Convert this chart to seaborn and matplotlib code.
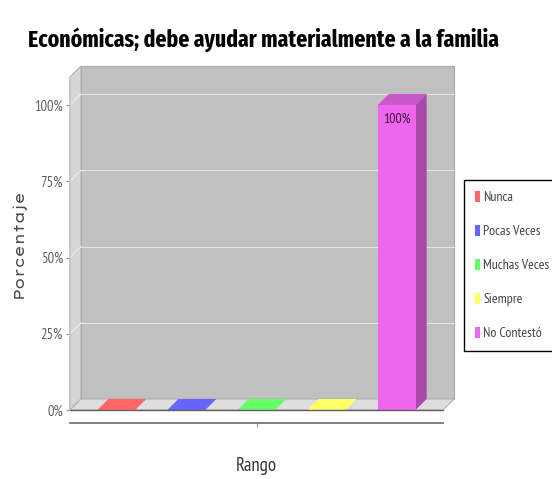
import matplotlib
matplotlib.use('Agg')
import matplotlib.pyplot as plt
import seaborn as sns
import pandas as pd
from matplotlib.patches import Polygon, Patch
from matplotlib.colors import to_rgb

categories = ['Nunca', 'Pocas Veces', 'Muchas Veces', 'Siempre', 'No Contestó']
values = [0, 0, 0, 0, 100]
colors = ['#ff6666', '#6666ff', '#66ff66', '#ffff66', '#ee66ee']
yticks = [0, 25, 50, 75, 100]
ytick_labels = ['0%', '25%', '50%', '75%', '100%']
bar_labels = ['', '', '', '', '100%']
title = 'Económicas; debe ayudar materialmente a la familia'
xlabel = 'Rango'
ylabel = 'Porcentaje'

sns.set_theme(style='white')
NARROW = ['PT Sans Narrow', 'DejaVu Sans']
plt.rcParams['font.family'] = NARROW

W, H = 552, 479
fig = plt.figure(figsize=(W / 100, H / 100), dpi=100)
fig.patch.set_facecolor('white')
L, R, B, T = 70, 443, 410, 77
ax = fig.add_axes([L / W, 1 - B / H, (R - L) / W, (B - T) / H])
ax.set_facecolor('none')
ymax = 100 * (B - T) / 305.0
x0, x1 = -0.66, 4.66

df = pd.DataFrame({'Rango': categories, 'Porcentaje': values})
sns.barplot(data=df, x='Rango', y='Porcentaje', hue='Rango', palette=colors,
            width=0.54, saturation=1, legend=False, ax=ax, zorder=3,
            edgecolor='none')
ax.set_xlim(x0, x1)
ax.set_ylim(0, ymax)

depth = 11
ddx = depth * (x1 - x0) / (R - L)
ddy = depth * ymax / (B - T)

# walls
ax.add_patch(Polygon([(x0 + ddx, ddy), (x1 + ddx, ddy), (x1 + ddx, ymax + ddy), (x0 + ddx, ymax + ddy)],
                     closed=True, facecolor='#c0c0c0', edgecolor='#a8a8a8', lw=0.8, zorder=0, clip_on=False))
ax.add_patch(Polygon([(x0, 0), (x0 + ddx, ddy), (x0 + ddx, ymax + ddy), (x0, ymax)],
                     closed=True, facecolor='#d6d6d6', edgecolor='#b0b0b0', lw=0.8, zorder=0.5, clip_on=False))
ax.add_patch(Polygon([(x0, 0), (x1, 0), (x1 + ddx, ddy), (x0 + ddx, ddy)],
                     closed=True, facecolor='#dedede', edgecolor='#b0b0b0', lw=0.8, zorder=0.5, clip_on=False))
for yv in yticks[1:]:
    ax.plot([x0 + ddx, x1 + ddx], [yv + ddy, yv + ddy], color='#e4e4e4', lw=0.8, zorder=0.6, clip_on=False)
    ax.plot([x0, x0 + ddx], [yv, yv + ddy], color='#ececec', lw=0.8, zorder=0.6, clip_on=False)
ax.plot([x0, x1], [0, 0], color='#606060', lw=1.0, zorder=4, clip_on=False)

# 3D faces for bars
for p in ax.patches[:]:
    if p.get_zorder() != 3:
        continue
    bx, bw, bh = p.get_x(), p.get_width(), p.get_height()
    c = to_rgb(p.get_facecolor())
    topc = tuple(v * 0.85 for v in c) if bh > 0 else c
    sidec = tuple(v * 0.72 for v in c)
    ax.add_patch(Polygon([(bx, bh), (bx + ddx, bh + ddy), (bx + bw + ddx, bh + ddy), (bx + bw, bh)],
                         closed=True, facecolor=topc, edgecolor='none', zorder=2.9, clip_on=False))
    if bh > 0:
        ax.add_patch(Polygon([(bx + bw, 0), (bx + bw + ddx, ddy), (bx + bw + ddx, bh + ddy), (bx + bw, bh)],
                             closed=True, facecolor=sidec, edgecolor='none', zorder=2.9, clip_on=False))

for cont, lab in zip(ax.containers, bar_labels):
    ax.bar_label(cont, labels=[lab], padding=-15, fontsize=10, color='#3a1040')

ax.set_yticks(yticks)
ax.set_yticklabels(ytick_labels, fontsize=10.5, color='#606060')
ax.set_xticks([2])
ax.set_xticklabels([''])
ax.tick_params(axis='both', length=3, color='#909090', width=0.8, pad=2)
ax.tick_params(axis='y', left=True)
ax.tick_params(axis='x', bottom=True)
for s in ['top', 'right']:
    ax.spines[s].set_visible(False)
ax.spines['left'].set_color('#c8c8c8')
ax.spines['bottom'].set_position(('outward', 9.5))
ax.spines['bottom'].set_color('#707070')
ax.set_xlabel(xlabel, fontsize=13.5, color='#333333', labelpad=19)
ax.set_ylabel(ylabel, fontsize=10.5, color='#4a4a4a', fontweight='bold',
              family=['Lexend Mega', 'DejaVu Sans'], labelpad=6)

handles = [Patch(facecolor=c, edgecolor='none') for c in colors]
leg = fig.legend(handles, categories, loc='upper left', bbox_to_anchor=(464 / W, 1 - 180 / H),
                 frameon=True, fancybox=False, edgecolor='black', framealpha=1, fontsize=10,
                 labelspacing=1.5, handlelength=0.35, handleheight=0.8, handletextpad=0.25,
                 borderpad=0.8, borderaxespad=0)
leg.get_frame().set_linewidth(1)
for t in leg.get_texts():
    t.set_color('#444444')

fig.text(263 / W, 1 - 40 / H, title, ha='center', va='center', fontsize=17, fontweight='bold',
         color='black', family=['Fira Sans Extra Condensed', 'DejaVu Sans'])

fig.savefig('out.png', dpi=100)
